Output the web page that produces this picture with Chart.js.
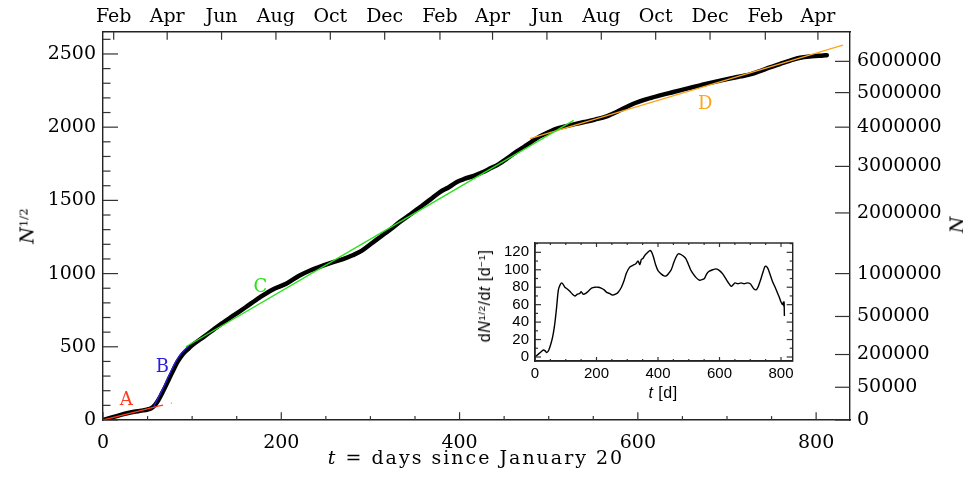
<!DOCTYPE html>
<html>
<head>
<meta charset="utf-8">
<script src="https://cdn.jsdelivr.net/npm/chart.js@4.4.1/dist/chart.umd.min.js"></script>
<style>
  html, body { margin: 0; padding: 0; background: #fff; }
  #wrap { position: relative; width: 963px; height: 479px; overflow: hidden; }
  canvas { position: absolute; }
  #main { left: 0; top: 0; }
  #inset { left: 470px; top: 228px; }
  .lbl { position: absolute; white-space: nowrap; color: #000; line-height: 1; }
  .serif { font-family: 'DejaVu Serif', serif; }
  .sans { font-family: 'Liberation Sans', Arial, sans-serif; }
  .c { transform: translate(-50%, -50%); }
  .rot { transform: translate(-50%, -50%) rotate(-90deg); }
  sup { font-size: 62%; vertical-align: 0.55em; line-height: 0; }
</style>
</head>
<body>
<div id="wrap">
  <canvas id="main" width="963" height="479"></canvas>
  <canvas id="inset" width="330" height="172"></canvas>
  <div class="lbl serif c" style="left:476px; top:457px; font-size:19px; letter-spacing:2px;"><i>t</i> = days since January 20</div>
  <div class="lbl serif rot" style="left:27px; top:226px; font-size:19px;"><i>N</i><sup>1/2</sup></div>
  <div class="lbl serif rot" style="left:957px; top:225px; font-size:19px;"><i>N</i></div>
  <div class="lbl sans rot" style="left:485px; top:296px; font-size:16px; letter-spacing:0.5px;">d<i>N</i><sup>1/2</sup>/d<i>t</i> [d<sup>−1</sup>]</div>
  <div class="lbl sans c" style="left:663px; top:393px; font-size:16px; letter-spacing:0.5px;"><i>t</i> [d]</div>
</div>
<script>
// main curve: square root of cumulative cases vs days since Jan 20
const days = [0, 10, 20, 27, 35, 43, 50, 54, 58, 62, 66, 70, 74, 78, 82, 86, 90, 95, 100, 113,
  130, 147, 160, 176, 190, 206, 220, 233, 246, 259, 270, 280, 290, 300, 311, 322, 333, 345, 356, 367,
  378, 388, 397, 406, 416, 425, 434, 444, 453, 462, 472, 481, 490, 500, 509, 518, 528, 540, 552, 565,
  580, 595, 610, 625, 640, 655, 670, 685, 700, 715, 727, 737, 748, 760, 771, 782, 795, 808, 812];
const rootN = [0, 18, 35, 46, 56, 64, 72, 80, 100, 135, 180, 228, 280, 330, 380, 420, 452, 482, 510, 568,
  645, 716, 770, 838, 890, 932, 985, 1023, 1052, 1080, 1100, 1125, 1155, 1200, 1250, 1300, 1353, 1405, 1455, 1505,
  1557, 1590, 1626, 1648, 1668, 1690, 1717, 1748, 1785, 1825, 1864, 1902, 1937, 1966, 1990, 2005, 2019, 2035, 2052, 2074,
  2115, 2160, 2192, 2217, 2240, 2263, 2285, 2308, 2328, 2347, 2362, 2383, 2408, 2433, 2455, 2474, 2484, 2490, 2492];

// fitted segments A-D
const fitA_t = [0, 62], fitA_v = [0, 94];
const fitA2_t = [62, 77], fitA2_v = [94, 116];
const fitB_t = [57, 60, 64, 68, 72, 76, 80, 84, 88, 92, 96];
const fitB_v = [92, 130, 175, 225, 278, 330, 380, 422, 456, 482, 503];
const fitC_t = [93, 528], fitC_v = [500, 2046];
const fitD_t = [479, 830], fitD_v = [1921, 2560];

const segNames = ['A', 'B', 'C', 'D'];
const segColors = ['#ff3b1e', '#2d1de0', '#29e01a', '#ffa41c'];
const segLabelT = [26, 66.5, 176.6, 675.7];
const segLabelV = [136, 361, 907, 2155];

// inset: d sqrt(N)/dt
const dDays = [0, 10, 20, 27, 33, 38, 45, 54, 60, 65, 70, 76, 82, 87, 92, 97, 105, 114, 122, 130,
  138, 146, 150, 157, 165, 175, 184, 195, 205, 215, 225, 233, 242, 252, 262, 270, 281, 290, 297, 308,
  318, 328, 335, 341, 346, 351, 358, 367, 373, 378, 385, 392, 400, 411, 420, 427, 435, 443, 451, 458,
  465, 472, 481, 490, 498, 506, 515, 524, 535, 545, 551, 558, 565, 578, 589, 600, 611, 620, 627, 638,
  645, 650, 660, 670, 680, 690, 700, 706, 712, 719, 725, 735, 742, 748, 752, 758, 765, 773, 781, 789,
  795, 800, 805, 808, 809, 810, 811];
const dRate = [0, 3, 6, 8, 7, 5, 8, 18, 28, 40, 56, 77, 83, 85, 83, 80, 78, 75, 72, 70,
  72, 73, 75, 72, 73, 76, 79, 80, 80, 79, 77, 74, 73, 71, 72, 74, 80, 88, 96, 103,
  105, 107, 110, 106, 112, 113, 117, 120, 122, 121, 115, 106, 99, 95, 93, 93, 96, 100, 108, 114,
  118, 118, 116, 113, 107, 100, 95, 91, 88, 89, 90, 95, 98, 100, 101, 99, 95, 90, 86, 81,
  83, 85, 84, 85, 84, 85, 84, 81, 78, 77, 80, 90, 98, 104, 104, 101, 94, 86, 80, 73,
  68, 63, 60, 63, 58, 63, 47];

// tick labels
const monthNames = ['Feb', 'Apr', 'Jun', 'Aug', 'Oct', 'Dec', 'Feb', 'Apr', 'Jun', 'Aug', 'Oct', 'Dec', 'Feb', 'Apr'];
const monthDays = [12, 72, 133, 194, 255, 316, 378, 437, 498, 559, 620, 681, 743, 802];
const nTicks = [0, 50000, 200000, 500000, 1000000, 2000000, 3000000, 4000000, 5000000, 6000000];
const dayTicks = [0, 50, 100, 150, 200, 250, 300, 350, 400, 450, 500, 550, 600, 650, 700, 750, 800];
const rootTicks = [0, 100, 200, 300, 400, 500, 600, 700, 800, 900, 1000, 1100, 1200, 1300, 1400, 1500,
  1600, 1700, 1800, 1900, 2000, 2100, 2200, 2300, 2400, 2500, 2600];
const rateTicks = [0, 10, 20, 30, 40, 50, 60, 70, 80, 90, 100, 110, 120, 130];

const X_MAX = 838;
const pts = (xs, ys) => xs.map((x, i) => ({ x, y: ys[i] }));
const frame = { display: true, color: '#222', width: 1.4 };
const noGrid = { display: false, drawTicks: false };
const serifFont = { family: "'DejaVu Serif', serif", size: 19 };
const sansFont = { family: "'Liberation Sans', Arial, sans-serif", size: 15 };

function setTicks(values, isMajor) {
    return s => { s.ticks = values.map(v => ({ value: v, major: isMajor(v) })); };
}

// IDL-style ticks drawn inward from the frame
function inwardTicks(spec) {
    return {
        id: 'inwardTicks',
        afterDatasetsDraw(chart) {
            const { ctx, chartArea: a } = chart;
            ctx.save();
            ctx.strokeStyle = '#333';
            ctx.lineWidth = 1.2;
            for (const id of Object.keys(spec)) {
                const s = chart.scales[id];
                const { major, minor, sides } = spec[id];
                s.ticks.forEach(t => {
                    const len = t.major ? major : minor;
                    const p = s.getPixelForValue(t.value);
                    sides.forEach(side => {
                        ctx.beginPath();
                        if (side === 'left') { ctx.moveTo(a.left, p); ctx.lineTo(a.left + len, p); }
                        if (side === 'right') { ctx.moveTo(a.right, p); ctx.lineTo(a.right - len, p); }
                        if (side === 'bottom') { ctx.moveTo(p, a.bottom); ctx.lineTo(p, a.bottom - len); }
                        if (side === 'top') { ctx.moveTo(p, a.top); ctx.lineTo(p, a.top + len); }
                        ctx.stroke();
                    });
                });
            }
            ctx.restore();
        }
    };
}

const segmentLabels = {
    id: 'segmentLabels',
    afterDatasetsDraw(chart) {
        const { ctx, scales } = chart;
        ctx.save();
        ctx.font = "18px 'DejaVu Serif', serif";
        ctx.textAlign = 'center';
        ctx.textBaseline = 'middle';
        segNames.forEach((n, i) => {
            ctx.fillStyle = segColors[i];
            ctx.fillText(n, scales.x.getPixelForValue(segLabelT[i]), scales.y.getPixelForValue(segLabelV[i]));
        });
        ctx.restore();
    }
};

const fitLine = (xs, ys, color, extra) => Object.assign({
    data: pts(xs, ys), borderColor: color, borderWidth: 1.3, pointRadius: 0,
    showLine: true, order: 1, tension: 0.3
}, extra || {});

new Chart(document.getElementById('main'), {
    type: 'scatter',
    data: {
        datasets: [
            { data: pts(days, rootN), borderColor: '#000', borderWidth: 4.5, pointRadius: 0,
              showLine: true, order: 5, cubicInterpolationMode: 'monotone', borderCapStyle: 'round' },
            fitLine(fitA_t, fitA_v, segColors[0]),
            fitLine(fitA2_t, fitA2_v, segColors[0], { borderDash: [5, 8] }),
            fitLine(fitB_t, fitB_v, segColors[1]),
            fitLine(fitC_t, fitC_v, segColors[2]),
            fitLine(fitD_t, fitD_v, segColors[3]),
        ]
    },
    options: {
        responsive: false,
        animation: false,
        devicePixelRatio: 1,
        layout: { padding: 0 },
        plugins: { legend: { display: false }, tooltip: { enabled: false } },
        scales: {
            x: {
                type: 'linear', position: 'bottom', min: 0, max: X_MAX,
                afterBuildTicks: setTicks(dayTicks, v => v % 200 === 0),
                afterFit: s => { s.height = 59; },
                grid: noGrid, border: frame,
                ticks: { autoSkip: false, maxRotation: 0, padding: 12, color: '#000', font: serifFont,
                    callback: v => (v % 200 === 0 ? String(v) : '') },
            },
            xTop: {
                type: 'linear', position: 'top', min: 0, max: X_MAX,
                afterBuildTicks: setTicks(monthDays, () => true),
                afterFit: s => { s.height = 32; },
                grid: noGrid, border: frame,
                ticks: { autoSkip: false, maxRotation: 0, padding: 4, color: '#000', font: serifFont,
                    callback: (v, i) => monthNames[i] },
            },
            y: {
                type: 'linear', position: 'left', min: 0, max: 2650,
                afterBuildTicks: setTicks(rootTicks, v => v % 500 === 0),
                afterFit: s => { s.width = 103; },
                grid: noGrid, border: frame,
                ticks: { autoSkip: false, padding: 7, color: '#000', font: serifFont,
                    callback: v => (v % 500 === 0 ? String(v) : '') },
            },
            yN: {
                type: 'linear', position: 'right', min: 0, max: 2650,
                afterBuildTicks: setTicks(nTicks.map(Math.sqrt), () => true),
                afterFit: s => { s.width = 113; },
                grid: noGrid, border: frame,
                ticks: { autoSkip: false, padding: 7, color: '#000', font: serifFont,
                    callback: (v, i) => String(nTicks[i]) },
            },
        }
    },
    plugins: [
        inwardTicks({
            x: { major: 7.8, minor: 3.9, sides: ['bottom'] },
            xTop: { major: 7.8, minor: 7.8, sides: ['top'] },
            y: { major: 15, minor: 7.5, sides: ['left'] },
            yN: { major: 15, minor: 15, sides: ['right'] },
        }),
        segmentLabels
    ]
});

new Chart(document.getElementById('inset'), {
    type: 'scatter',
    data: {
        datasets: [{ data: pts(dDays, dRate), borderColor: '#000', borderWidth: 1.4, pointRadius: 0,
            showLine: true, tension: 0.25 }]
    },
    options: {
        responsive: false,
        animation: false,
        devicePixelRatio: 1,
        layout: { padding: { top: 7, right: 7.3, left: 0, bottom: 0 } },
        plugins: { legend: { display: false }, tooltip: { enabled: false } },
        scales: {
            x: {
                type: 'linear', position: 'bottom', min: 0, max: X_MAX,
                afterBuildTicks: setTicks(dayTicks, v => v % 200 === 0),
                afterFit: s => { s.height = 39; },
                grid: noGrid, border: frame,
                ticks: { autoSkip: false, maxRotation: 0, padding: 4, color: '#000', font: sansFont,
                    callback: v => (v % 200 === 0 ? String(v) : '') },
            },
            y: {
                type: 'linear', position: 'left', min: -4.6, max: 130.7,
                afterBuildTicks: setTicks(rateTicks, v => v % 20 === 0),
                afterFit: s => { s.width = 65; },
                grid: noGrid, border: frame,
                ticks: { autoSkip: false, padding: 6, color: '#000', font: sansFont,
                    callback: v => (v % 20 === 0 ? String(v) : '') },
            },
        }
    },
    plugins: [
        inwardTicks({
            x: { major: 4, minor: 2, sides: ['bottom', 'top'] },
            y: { major: 6, minor: 3, sides: ['left', 'right'] },
        }),
        {
            id: 'insetFrame',
            afterDatasetsDraw(chart) {
                const { ctx, chartArea: a } = chart;
                ctx.save();
                ctx.strokeStyle = '#222';
                ctx.lineWidth = 1.4;
                ctx.strokeRect(a.left, a.top, a.right - a.left, a.bottom - a.top);
                ctx.restore();
            }
        }
    ]
});
</script>
</body>
</html>
